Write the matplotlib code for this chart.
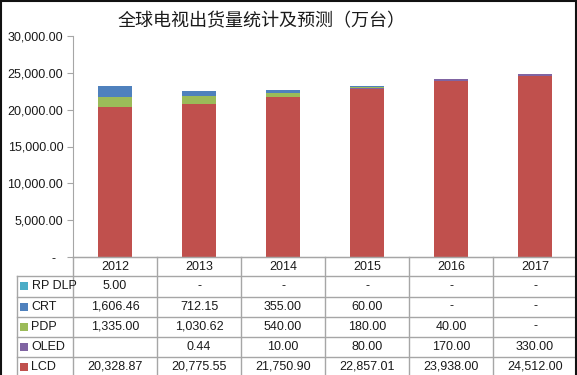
import matplotlib
matplotlib.use("Agg")
import matplotlib.pyplot as plt
from matplotlib.lines import Line2D
from matplotlib.patches import Rectangle

# data (万台)
years = ["2012", "2013", "2014", "2015", "2016", "2017"]
lcd = [20328.87, 20775.55, 21750.90, 22857.01, 23938.00, 24512.00]
oled = [None, 0.44, 10.00, 80.00, 170.00, 330.00]
pdp = [1335.00, 1030.62, 540.00, 180.00, 40.00, 0]
crt = [1606.46, 712.15, 355.00, 60.00, 0, 0]
rpdlp = [5.00, 0, 0, 0, 0, 0]

series = [("LCD", lcd, "#C0504D"),
          ("OLED", oled, "#8064A2"),
          ("PDP", pdp, "#9BBB59"),
          ("CRT", crt, "#4F81BD"),
          ("RP DLP", rpdlp, "#4BACC6")]
yticks = [0, 5000, 10000, 15000, 20000, 25000, 30000]

TEXT = "#1a1a1a"
GRID = "#a6a6a6"
FONT = ["Liberation Sans", "DejaVu Sans"]
plt.rcParams["font.family"] = FONT

W, H = 577, 375
fig = plt.figure(figsize=(W / 100, H / 100), dpi=100)
fig.patch.set_facecolor("white")

# plot area in pixel terms
x0, x1, ytop, ybot = 73, 577, 36, 257
ax = fig.add_axes([x0 / W, 1 - ybot / H, (x1 - x0) / W, (ybot - ytop) / H])

xs = list(range(len(years)))
bottom = [0.0] * len(years)
for name, vals, col in series:
    v = [0 if a is None else a for a in vals]
    ax.bar(xs, v, width=0.4, bottom=bottom, color=col, linewidth=0)
    bottom = [b + a for b, a in zip(bottom, v)]

ax.set_xlim(-0.5, len(years) - 0.5)
ax.set_ylim(0, 30000)
ax.set_yticks(yticks)
ax.set_yticklabels(["-  "] + [f"{t:,.2f}" for t in yticks[1:]])
ax.set_xticks([])
for s in ("top", "right"):
    ax.spines[s].set_visible(False)
ax.spines["left"].set_color(GRID)
ax.spines["bottom"].set_color(GRID)
ax.tick_params(axis="y", colors=TEXT, labelsize=9, length=4, width=0.8,
               color=GRID, pad=3)
for lab in ax.get_yticklabels():
    lab.set_color(TEXT)

fig.text(262 / W, 1 - 21 / H, "全球电视出货量统计及预测（万台）",
         ha="center", va="center", fontsize=13, fontweight="medium",
         color=TEXT, family=["Noto Sans CJK SC", "DejaVu Sans"])

# data table below the bars, drawn in pixel coords
tax = fig.add_axes([0, 0, 1, 1])
tax.set_xlim(0, W)
tax.set_ylim(H, 0)
tax.axis("off")

colw = (x1 - x0) / len(years)
row_edges = [257, 276, 296.5, 316.5, 336.5, 356.5, 377]
tl, tr = 17, 577

# horizontal lines
tax.plot([x0, tr], [row_edges[0]] * 2, color=GRID, lw=1)
for y in row_edges[1:]:
    tax.plot([tl, tr], [y, y], color=GRID, lw=1)
# vertical lines
tax.plot([tl, tl], [row_edges[1], row_edges[-1]], color=GRID, lw=1)
for i in range(len(years)):
    xe = x0 + i * colw
    tax.plot([xe, xe], [row_edges[0], row_edges[-1]], color=GRID, lw=1)

# header
for i, yr in enumerate(years):
    tax.text(x0 + (i + 0.5) * colw, (row_edges[0] + row_edges[1]) / 2, yr,
             ha="center", va="center", fontsize=9, color=TEXT)

# rows: top to bottom is reverse stacking order
for r, (name, vals, col) in enumerate(reversed(series)):
    yc = (row_edges[r + 1] + row_edges[r + 2]) / 2
    tax.add_patch(Rectangle((19.5, yc - 4), 8, 8, color=col, lw=0))
    tax.text(31.5, yc, name, ha="left", va="center", fontsize=9, color=TEXT)
    for i, v in enumerate(vals):
        if v is None:
            continue
        s = "-" if v == 0 else f"{v:,.2f}"
        tax.text(x0 + (i + 0.5) * colw, yc, s, ha="center", va="center",
                 fontsize=9, color=TEXT)

# outer frame of the chart (top, left, right)
for xa, ya in (([0, W], [0.7, 0.7]), ([0.7, 0.7], [0, H]),
               ([W - 1.5, W - 1.5], [0, H])):
    tax.add_line(Line2D(xa, ya, color="#111111", lw=1.5))

fig.savefig("out.png", dpi=100)
